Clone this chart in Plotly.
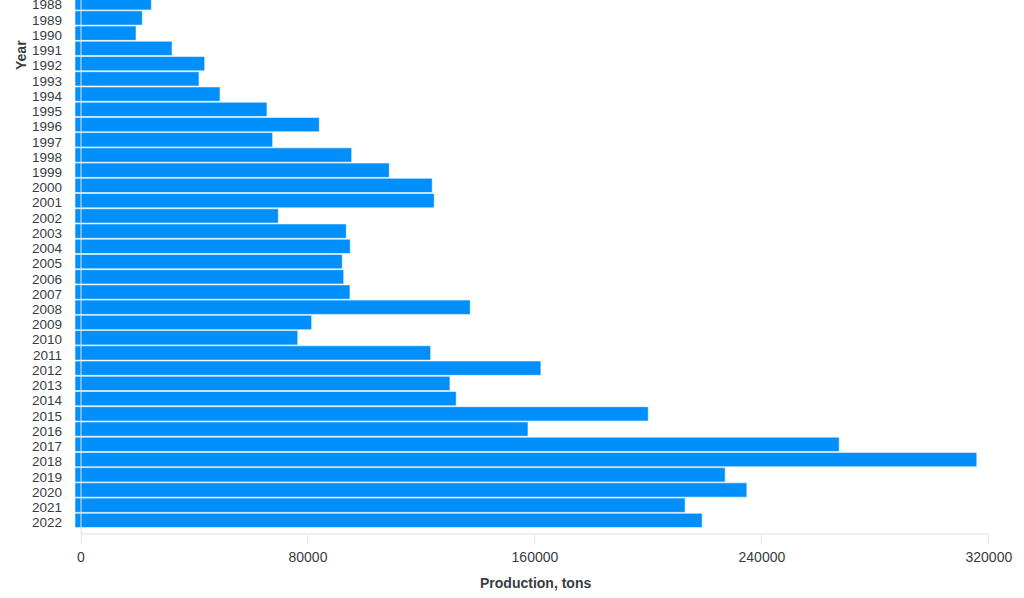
import plotly.graph_objects as go

years = list(range(1988, 2023))
production = [
    24800, 21600, 19400, 32100, 43600, 41600, 49000, 65550, 84000, 67550,
    95400, 108650, 123800, 124500, 69550, 93500, 94900, 92100, 92600, 94800,
    137200, 81300, 76400, 123250, 162100, 130050, 132250, 199950, 157550, 267250,
    315750, 227050, 234700, 212950, 218950,
]
x_ticks = [0, 80000, 160000, 240000, 320000]

X_MIN = -2115
X_MAX = 320050
BAR_COLOR = "#008FFB"
TEXT_COLOR = "#373d3f"
LINE_COLOR = "#e0e0e0"
FONT = "Liberation Sans, Arial, Helvetica, sans-serif"

fig = go.Figure()
fig.add_trace(go.Bar(
    y=years,
    x=[v - X_MIN for v in production],
    base=X_MIN,
    orientation="h",
    marker=dict(color=BAR_COLOR, line=dict(color="rgba(255,255,255,0.55)", width=1)),
    hoverinfo="skip",
))

fig.update_layout(
    width=1024, height=598,
    margin=dict(l=75, r=35, t=0, b=64, autoexpand=False),
    paper_bgcolor="white", plot_bgcolor="white",
    bargap=0.06,
    showlegend=False,
    font=dict(family=FONT, color=TEXT_COLOR),
    xaxis=dict(
        range=[X_MIN, X_MAX],
        tickvals=x_ticks,
        ticktext=[str(t) for t in x_ticks],
        ticks="outside", ticklen=8, tickcolor=LINE_COLOR, tickwidth=1,
        showgrid=False, zeroline=False, showline=False,
        automargin=False, ticklabeloverflow="allow",
        ticklabelstandoff=2,
        tickfont=dict(size=14, color=TEXT_COLOR, family=FONT),
    ),
    yaxis=dict(
        range=[2022.89, 1987.82],
        tickvals=years,
        ticktext=[str(y) for y in years],
        ticks="", showgrid=False, zeroline=False, showline=False,
        automargin=False, ticklabeloverflow="allow",
        ticklabelstandoff=12, ticklabelshift=-2,
        tickfont=dict(size=13.5, color=TEXT_COLOR, family=FONT),
    ),
    shapes=[
        dict(type="line", xref="x", yref="paper", x0=0, x1=0, y0=0, y1=1,
             line=dict(color=LINE_COLOR, width=1), layer="above"),
        dict(type="line", xref="x", yref="paper", x0=0, x1=320000, y0=0, y1=0,
             line=dict(color=LINE_COLOR, width=1), layer="above"),
    ],
    annotations=[
        dict(text="<b>Production, tons</b>", xref="paper", yref="paper",
             x=(535 - 75) / 914, y=-(583 - 534) / 534, xanchor="center", yanchor="middle",
             showarrow=False, font=dict(size=14, color=TEXT_COLOR, family=FONT)),
        dict(text="<b>Year</b>", xref="paper", yref="paper",
             x=(21 - 75) / 914, y=1 - 55 / 534, xanchor="center", yanchor="middle",
             textangle=-90, showarrow=False, font=dict(size=14, color=TEXT_COLOR, family=FONT)),
    ],
)

fig.write_html(
    "out.html",
    config={"displayModeBar": False},
    post_script="document.body.style.margin='0';document.body.style.overflow='hidden';",
)
